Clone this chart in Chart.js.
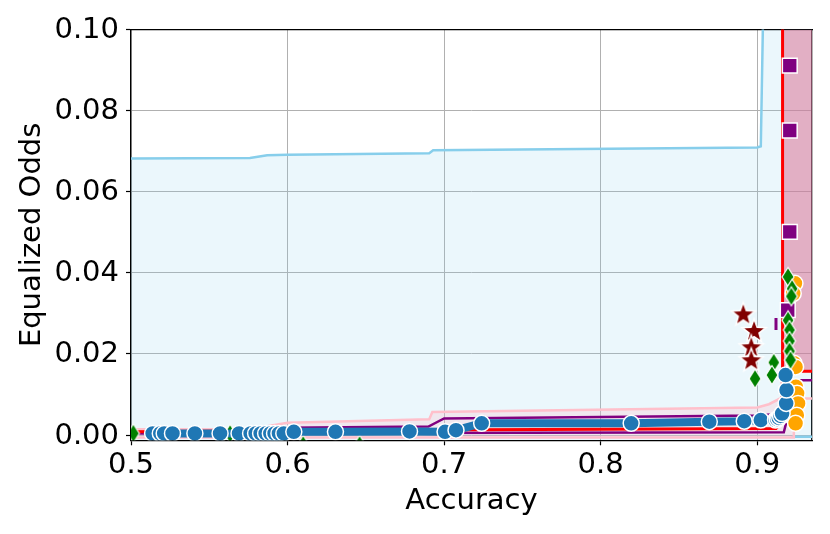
<!DOCTYPE html>
<html>
<head>
<meta charset="utf-8">
<script src="https://cdn.jsdelivr.net/npm/chart.js@4/dist/chart.umd.min.js"></script>
<style>
  html, body { margin: 0; padding: 0; background: #fff; }
</style>
</head>
<body>
<canvas id="chart" width="830" height="534"></canvas>
<script>
// ── Axis ticks ──
const xTicks = [0.5, 0.6, 0.7, 0.8, 0.9];
const yTicks = [0, 0.02, 0.04, 0.06, 0.08, 0.10];

// ── Sky-blue frontier (filled below) ──
const skyX = [0.5, 0.576, 0.587, 0.6, 0.6905, 0.693, 0.9, 0.9023, 0.9045, 0.94];
const skyY = [0.0682, 0.0683, 0.0690, 0.0691, 0.0695, 0.0702, 0.0709, 0.0712, 0.12, 0.12];
const skyBaseX = [0.922, 0.94];
const skyBaseY = [-0.0004, -0.0004];

// ── Red frontier, pink region above it ──
const redEdgeX = [0.9162, 0.9162, 0.94];
const redEdgeY = [0.12, 0.0157, 0.0157];
const redLowX = [0.5, 0.6, 0.8, 0.912, 0.9155, 0.9162];
const redLowY = [0.0008, 0.0011, 0.0014, 0.0016, 0.0030, 0.0160];

// ── Purple outline ──
const purpleX = [0.5, 0.59, 0.6, 0.69, 0.7, 0.9, 0.913, 0.9175, 0.9175, 0.94];
const purpleY = [0.0006, 0.0010, 0.0018, 0.0021, 0.0041, 0.0048, 0.0052, 0.0070, 0.0135, 0.0135];
const purpleLowX = [0.5, 0.917, 0.9185];
const purpleLowY = [0.0004, 0.0007, 0.0030];

// ── Pink band around the blue series ──
const bandX = [0.5, 0.576, 0.6, 0.6905, 0.6925, 0.9, 0.9075, 0.9145, 0.9234, 0.9234, 0.5, 0.5];
const bandY = [0.0014, 0.0014, 0.0030, 0.0039, 0.0057, 0.0068, 0.0076, 0.0090, 0.0090, -0.0006, -0.0006, 0.0014];
const bandTailX = [0.9234, 0.94];
const bandTailY = [0.0090, 0.0090];

// ── Blue series ──
const blueX = [0.5138, 0.5187, 0.5212, 0.5265, 0.5408, 0.5569, 0.569, 0.5764, 0.5796, 0.5828, 0.586, 0.589,
               0.5917, 0.5945, 0.5976, 0.604, 0.6306, 0.6779, 0.7006, 0.7076, 0.724, 0.8195, 0.8694, 0.8917,
               0.9023, 0.9117, 0.9128, 0.9138, 0.9149, 0.9159, 0.9185, 0.9187, 0.9181];
const blueY = [0.0004, 0.0004, 0.0004, 0.0004, 0.0004, 0.0004, 0.0004, 0.0004, 0.0004, 0.0004, 0.0004, 0.0004,
               0.0004, 0.0004, 0.0004, 0.0008, 0.0008, 0.0009, 0.0008, 0.0012, 0.0029, 0.0029, 0.0033, 0.0034,
               0.0037, 0.0037, 0.0039, 0.0042, 0.0047, 0.0053, 0.0078, 0.0111, 0.0148];

// ── Scatter groups ──
const orangeX = [0.9241, 0.9230, 0.9235, 0.9245, 0.9247, 0.9255, 0.9261, 0.9253, 0.9245];
const orangeY = [0.0374, 0.0349, 0.0177, 0.0168, 0.0119, 0.0103, 0.0078, 0.0049, 0.0029];
const greenX = [0.9197, 0.9223, 0.9218, 0.9197, 0.9206, 0.9206, 0.9206, 0.9213, 0.9106, 0.9094, 0.8986];
const greenY = [0.0390, 0.0361, 0.0342, 0.0283, 0.0259, 0.0232, 0.0207, 0.0185, 0.0179, 0.0148, 0.0139];
const greenLowX = [0.5015, 0.5633, 0.61, 0.646];
const greenLowY = [0.0004, 0.0003, -0.0024, -0.0024];
const squareX = [0.9208, 0.9208, 0.9208, 0.9195];
const squareY = [0.0911, 0.0751, 0.0501, 0.0308];
const tickMarkX = [0.912];
const tickMarkY = [0.0274];
const starX = [0.8911, 0.8980, 0.8962, 0.8962];
const starY = [0.0300, 0.0259, 0.0219, 0.0187];

const pts = (xs, ys) => xs.map((x, i) => ({ x, y: ys[i] }));

// marker glyphs not built into Chart.js
function glyph(w, h, draw) {
    const c = document.createElement('canvas');
    c.width = w; c.height = h;
    draw(c.getContext('2d'), w, h);
    return c;
}
const starImg = glyph(30, 30, (g, w, h) => {
    g.beginPath();
    for (let i = 0; i < 10; i++) {
        const r = i % 2 ? 5.2 : 12.5;
        const a = -Math.PI / 2 + i * Math.PI / 5;
        g.lineTo(w / 2 + r * Math.cos(a), h / 2 + 1.5 + r * Math.sin(a));
    }
    g.closePath();
    g.fillStyle = '#800000'; g.fill();
    g.strokeStyle = '#fff'; g.lineWidth = 1.5; g.stroke();
});
const diamondImg = glyph(16, 22, (g, w, h) => {
    g.beginPath();
    g.moveTo(w / 2, 1.5); g.lineTo(w - 2, h / 2); g.lineTo(w / 2, h - 1.5); g.lineTo(2, h / 2);
    g.closePath();
    g.fillStyle = '#008000'; g.fill();
    g.strokeStyle = '#fff'; g.lineWidth = 1.2; g.stroke();
});

const line = (data, color, width, order, extra) => Object.assign({
    data, showLine: true, borderColor: color, borderWidth: width,
    pointRadius: 0, fill: false, order, clip: 0
}, extra || {});

const marks = (data, order, extra) => Object.assign({
    data, showLine: false, order, clip: 0,
    pointBorderColor: '#fff', pointBorderWidth: 1.5
}, extra);

const FONT = { family: 'DejaVu Sans', size: 29 };
const X_MIN = 0.5, X_MAX = 0.935, Y_MIN = -0.0013, Y_MAX = 0.1;

new Chart(document.getElementById('chart'), {
    type: 'scatter',
    data: {
        datasets: [
            marks(pts(starX, starY), 1, { pointStyle: starImg, pointRadius: 12 }),
            marks(pts(greenX, greenY), 2, { pointStyle: diamondImg, pointRadius: 10 }),
            marks(pts(squareX, squareY), 3, { pointStyle: 'rect', pointRadius: 10.5, pointBackgroundColor: '#800080' }),
            marks(pts(tickMarkX, tickMarkY), 3, { pointStyle: 'line', pointRotation: 90, pointRadius: 6,
                                                   pointBorderColor: '#800080', pointBorderWidth: 3 }),
            marks(pts(orangeX, orangeY), 5, { pointStyle: 'circle', pointRadius: 8, pointBackgroundColor: '#ffa500' }),
            line(pts(blueX, blueY), '#1f77b4', 8, 4, {
                pointRadius: 8, pointStyle: 'circle', pointBackgroundColor: '#1f77b4',
                pointBorderColor: '#fff', pointBorderWidth: 1.5
            }),
            marks(pts(greenLowX, greenLowY), 6, { pointStyle: diamondImg, pointRadius: 10 }),
            line(pts(redLowX, redLowY), '#ff0000', 3, 7),
            line(pts(purpleX, purpleY), '#800080', 2.5, 8),
            line(pts(purpleLowX, purpleLowY), '#800080', 2.5, 8),
            line(pts(bandX, bandY), '#ffc0cb', 2.5, 9, { fill: 'shape', backgroundColor: 'rgba(255,192,203,0.28)' }),
            line(pts(bandTailX, bandTailY), '#ffc0cb', 2.5, 9),
            line(pts(redEdgeX, redEdgeY), '#ff0000', 3, 10, { fill: 'end', backgroundColor: 'rgba(219,112,147,0.53)' }),
            line(pts(skyBaseX, skyBaseY), '#87ceeb', 2.5, 11),
            line(pts(skyX, skyY), '#87ceeb', 2.5, 12, { fill: 'start', backgroundColor: 'rgba(135,206,235,0.17)' })
        ]
    },
    options: {
        responsive: false,
        devicePixelRatio: 1,
        animation: false,
        events: [],
        layout: { padding: { top: 29.5, right: 18, bottom: 0, left: 0 } },
        plugins: { legend: { display: false }, tooltip: { enabled: false } },
        scales: {
            x: {
                type: 'linear', position: 'bottom', min: X_MIN, max: X_MAX,
                afterBuildTicks: s => { s.ticks = xTicks.map(v => ({ value: v })); },
                afterFit: s => { s.height = 93.7; },
                ticks: { color: '#000', font: FONT, padding: 3, maxRotation: 0, callback: v => v.toFixed(1) },
                grid: { color: '#b0b0b0', lineWidth: 1, tickColor: '#000', tickLength: 5, tickWidth: 1.2 },
                border: { color: '#000', width: 1.3 },
                title: { display: true, text: 'Accuracy', color: '#000', font: FONT, padding: { top: 0, bottom: 15 } }
            },
            y: {
                type: 'linear', position: 'left', min: Y_MIN, max: Y_MAX,
                afterBuildTicks: s => { s.ticks = yTicks.map(v => ({ value: v })); },
                afterFit: s => { s.width = 131; },
                ticks: { color: '#000', font: FONT, padding: 7, labelOffset: 1, callback: v => v.toFixed(2) },
                grid: { color: '#b0b0b0', lineWidth: 1, tickColor: '#000', tickLength: 5, tickWidth: 1.2 },
                border: { color: '#000', width: 1.3 },
                title: { display: true, text: 'Equalized Odds', color: '#000', font: FONT, padding: { top: 14.6, bottom: 0 } }
            },
            xTop: {
                type: 'linear', position: 'top', min: X_MIN, max: X_MAX,
                afterFit: s => { s.height = 0; },
                ticks: { display: false }, grid: { display: false, drawTicks: false },
                border: { color: '#000', width: 1.3 }
            },
            yRight: {
                type: 'linear', position: 'right', min: Y_MIN, max: Y_MAX,
                afterFit: s => { s.width = 0; },
                ticks: { display: false }, grid: { display: false, drawTicks: false },
                border: { color: '#000', width: 1.3 }
            }
        }
    }
});
</script>
</body>
</html>
